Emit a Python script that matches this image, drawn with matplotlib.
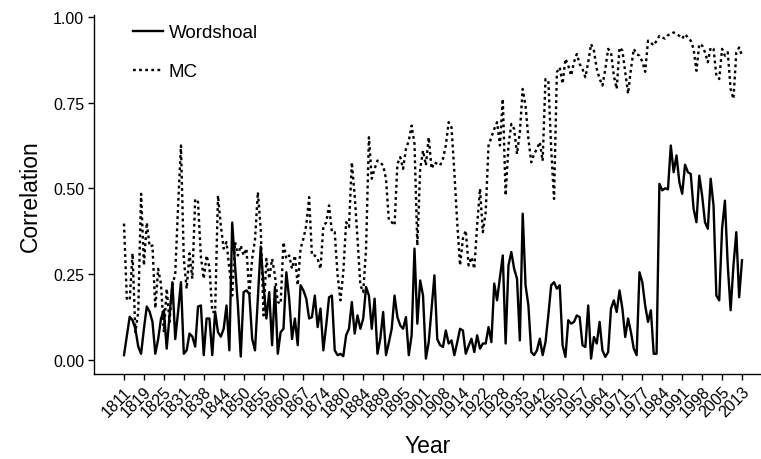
import numpy as np
import matplotlib
matplotlib.use("Agg")
import matplotlib.pyplot as plt

plt.rcParams['font.family'] = ['Liberation Sans', 'DejaVu Sans']
plt.rcParams['lines.scale_dashes'] = False

# x axis is discrete (one level per point), labelled every 7th level
tick_labels = ['1811', '1819', '1825', '1831', '1838', '1844', '1850', '1855',
               '1860', '1867', '1874', '1880', '1884', '1889', '1895', '1901',
               '1908', '1914', '1922', '1928', '1935', '1942', '1950', '1957',
               '1964', '1971', '1977', '1984', '1991', '1998', '2005', '2013']
tick_step = 7

wordshoal = [
    0.013, 0.07, 0.125, 0.115, 0.09, 0.038, 0.017, 0.09, 0.155, 0.14,
    0.11, 0.017, 0.06, 0.12, 0.144, 0.032, 0.129, 0.226, 0.06, 0.14,
    0.226, 0.017, 0.027, 0.076, 0.067, 0.038, 0.155, 0.158, 0.013, 0.12,
    0.12, 0.013, 0.14, 0.08, 0.067, 0.09, 0.158, 0.027, 0.40, 0.275,
    0.158, 0.009, 0.197, 0.202, 0.192, 0.061, 0.027, 0.178, 0.33, 0.217,
    0.12, 0.197, 0.042, 0.212, 0.017, 0.08, 0.09, 0.255, 0.178, 0.06,
    0.12, 0.042, 0.217, 0.202, 0.178, 0.12, 0.124, 0.187, 0.095, 0.149,
    0.027, 0.10, 0.182, 0.187, 0.027, 0.013, 0.017, 0.01, 0.071, 0.09,
    0.168, 0.076, 0.129, 0.09, 0.12, 0.212, 0.187, 0.09, 0.178, 0.017,
    0.061, 0.139, 0.013, 0.05, 0.09, 0.187, 0.124, 0.10, 0.09, 0.124,
    0.013, 0.071, 0.324, 0.105, 0.231, 0.187, 0.003, 0.051, 0.15, 0.246,
    0.06, 0.042, 0.037, 0.085, 0.047, 0.056, 0.013, 0.05, 0.09, 0.085,
    0.017, 0.04, 0.061, 0.022, 0.071, 0.032, 0.047, 0.047, 0.095, 0.051,
    0.222, 0.173, 0.24, 0.304, 0.047, 0.275, 0.314, 0.265, 0.236, 0.056,
    0.426, 0.217, 0.158, 0.022, 0.013, 0.027, 0.061, 0.013, 0.051, 0.13,
    0.217, 0.226, 0.207, 0.217, 0.042, 0.008, 0.115, 0.105, 0.11, 0.129,
    0.124, 0.042, 0.037, 0.158, 0.003, 0.066, 0.047, 0.11, 0.027, 0.008,
    0.022, 0.149, 0.173, 0.139, 0.202, 0.149, 0.066, 0.12, 0.08, 0.032,
    0.013, 0.255, 0.226, 0.158, 0.11, 0.144, 0.017, 0.017, 0.513, 0.494,
    0.50, 0.497, 0.625, 0.547, 0.596, 0.518, 0.484, 0.569, 0.547, 0.542,
    0.44, 0.401, 0.537, 0.479, 0.401, 0.382, 0.528, 0.45, 0.187, 0.173,
    0.382, 0.464, 0.275, 0.144, 0.275, 0.372, 0.182, 0.29,
]

mc = [
    0.397, 0.178, 0.173, 0.31, 0.08, 0.139, 0.484, 0.275, 0.40, 0.33,
    0.333, 0.15, 0.265, 0.22, 0.08, 0.207, 0.11, 0.217, 0.25, 0.45,
    0.625, 0.294, 0.207, 0.31, 0.236, 0.469, 0.46, 0.30, 0.236, 0.304,
    0.27, 0.139, 0.139, 0.479, 0.392, 0.324, 0.343, 0.265, 0.187, 0.343,
    0.304, 0.333, 0.304, 0.324, 0.192, 0.294, 0.35, 0.489, 0.382, 0.129,
    0.294, 0.236, 0.294, 0.246, 0.168, 0.163, 0.343, 0.294, 0.304, 0.265,
    0.304, 0.217, 0.324, 0.353, 0.392, 0.474, 0.304, 0.304, 0.294, 0.265,
    0.39, 0.40, 0.45, 0.372, 0.372, 0.246, 0.173, 0.255, 0.401, 0.387,
    0.576, 0.479, 0.353, 0.217, 0.197, 0.324, 0.649, 0.528, 0.557, 0.581,
    0.575, 0.567, 0.528, 0.406, 0.401, 0.392, 0.571, 0.591, 0.557, 0.615,
    0.639, 0.683, 0.63, 0.333, 0.557, 0.61, 0.567, 0.649, 0.557, 0.576,
    0.571, 0.567, 0.586, 0.625, 0.693, 0.678, 0.547, 0.40, 0.275, 0.353,
    0.377, 0.275, 0.299, 0.265, 0.392, 0.499, 0.372, 0.43, 0.625, 0.649,
    0.673, 0.693, 0.625, 0.761, 0.479, 0.625, 0.688, 0.673, 0.60, 0.664,
    0.79, 0.741, 0.644, 0.576, 0.60, 0.615, 0.635, 0.58, 0.819, 0.814,
    0.615, 0.469, 0.839, 0.853, 0.805, 0.878, 0.858, 0.829, 0.868, 0.892,
    0.863, 0.848, 0.824, 0.868, 0.921, 0.902, 0.848, 0.82, 0.80, 0.848,
    0.907, 0.897, 0.829, 0.79, 0.911, 0.902, 0.839, 0.776, 0.848, 0.907,
    0.892, 0.887, 0.87, 0.84, 0.931, 0.925, 0.917, 0.931, 0.945, 0.94,
    0.937, 0.947, 0.95, 0.955, 0.95, 0.945, 0.937, 0.95, 0.94, 0.931,
    0.907, 0.843, 0.921, 0.917, 0.897, 0.868, 0.911, 0.907, 0.829, 0.819,
    0.907, 0.887, 0.897, 0.79, 0.761, 0.897, 0.911, 0.887,
]

y_ticks = [0.0, 0.25, 0.5, 0.75, 1.0]

fig = plt.figure(figsize=(7.61, 4.60), dpi=100)
ax = fig.add_axes([94 / 761, 85 / 460, 667 / 761, 358.7 / 460])

ax.plot(np.arange(len(wordshoal)), wordshoal, color='black', lw=1.7,
        label='Wordshoal')
ax.plot(np.arange(len(mc)), mc, color='black', lw=1.7,
        linestyle=(0, (2.0, 2.4)), label='MC')

n = len(wordshoal)
ax.set_xlim(-10.53, 223.67)
ax.set_ylim(-0.042, 1.005)

ax.set_xticks(np.arange(0, n, tick_step))
ax.set_xticklabels(tick_labels, rotation=45, ha='right', va='top',
                   rotation_mode='anchor')
ax.set_yticks(y_ticks)
ax.set_yticklabels([f'{v:.2f}' for v in y_ticks])

for s in ['top', 'right']:
    ax.spines[s].set_visible(False)
for s in ['left', 'bottom']:
    ax.spines[s].set_linewidth(1.0)
    ax.spines[s].set_color('black')

ax.tick_params(axis='both', direction='out', length=4, width=1.0,
               colors='black', labelsize=11.5, pad=3)

ax.set_xlabel('Year', fontsize=16.5, labelpad=10)
ax.set_ylabel('Correlation', fontsize=16.5, labelpad=8)

ax.legend(loc='upper left', bbox_to_anchor=(0.0585, 0.975), frameon=False,
          fontsize=13.5, handlelength=1.6, handletextpad=0.3,
          labelspacing=1.17, borderpad=0, borderaxespad=0)

fig.savefig('out.png', dpi=100)
